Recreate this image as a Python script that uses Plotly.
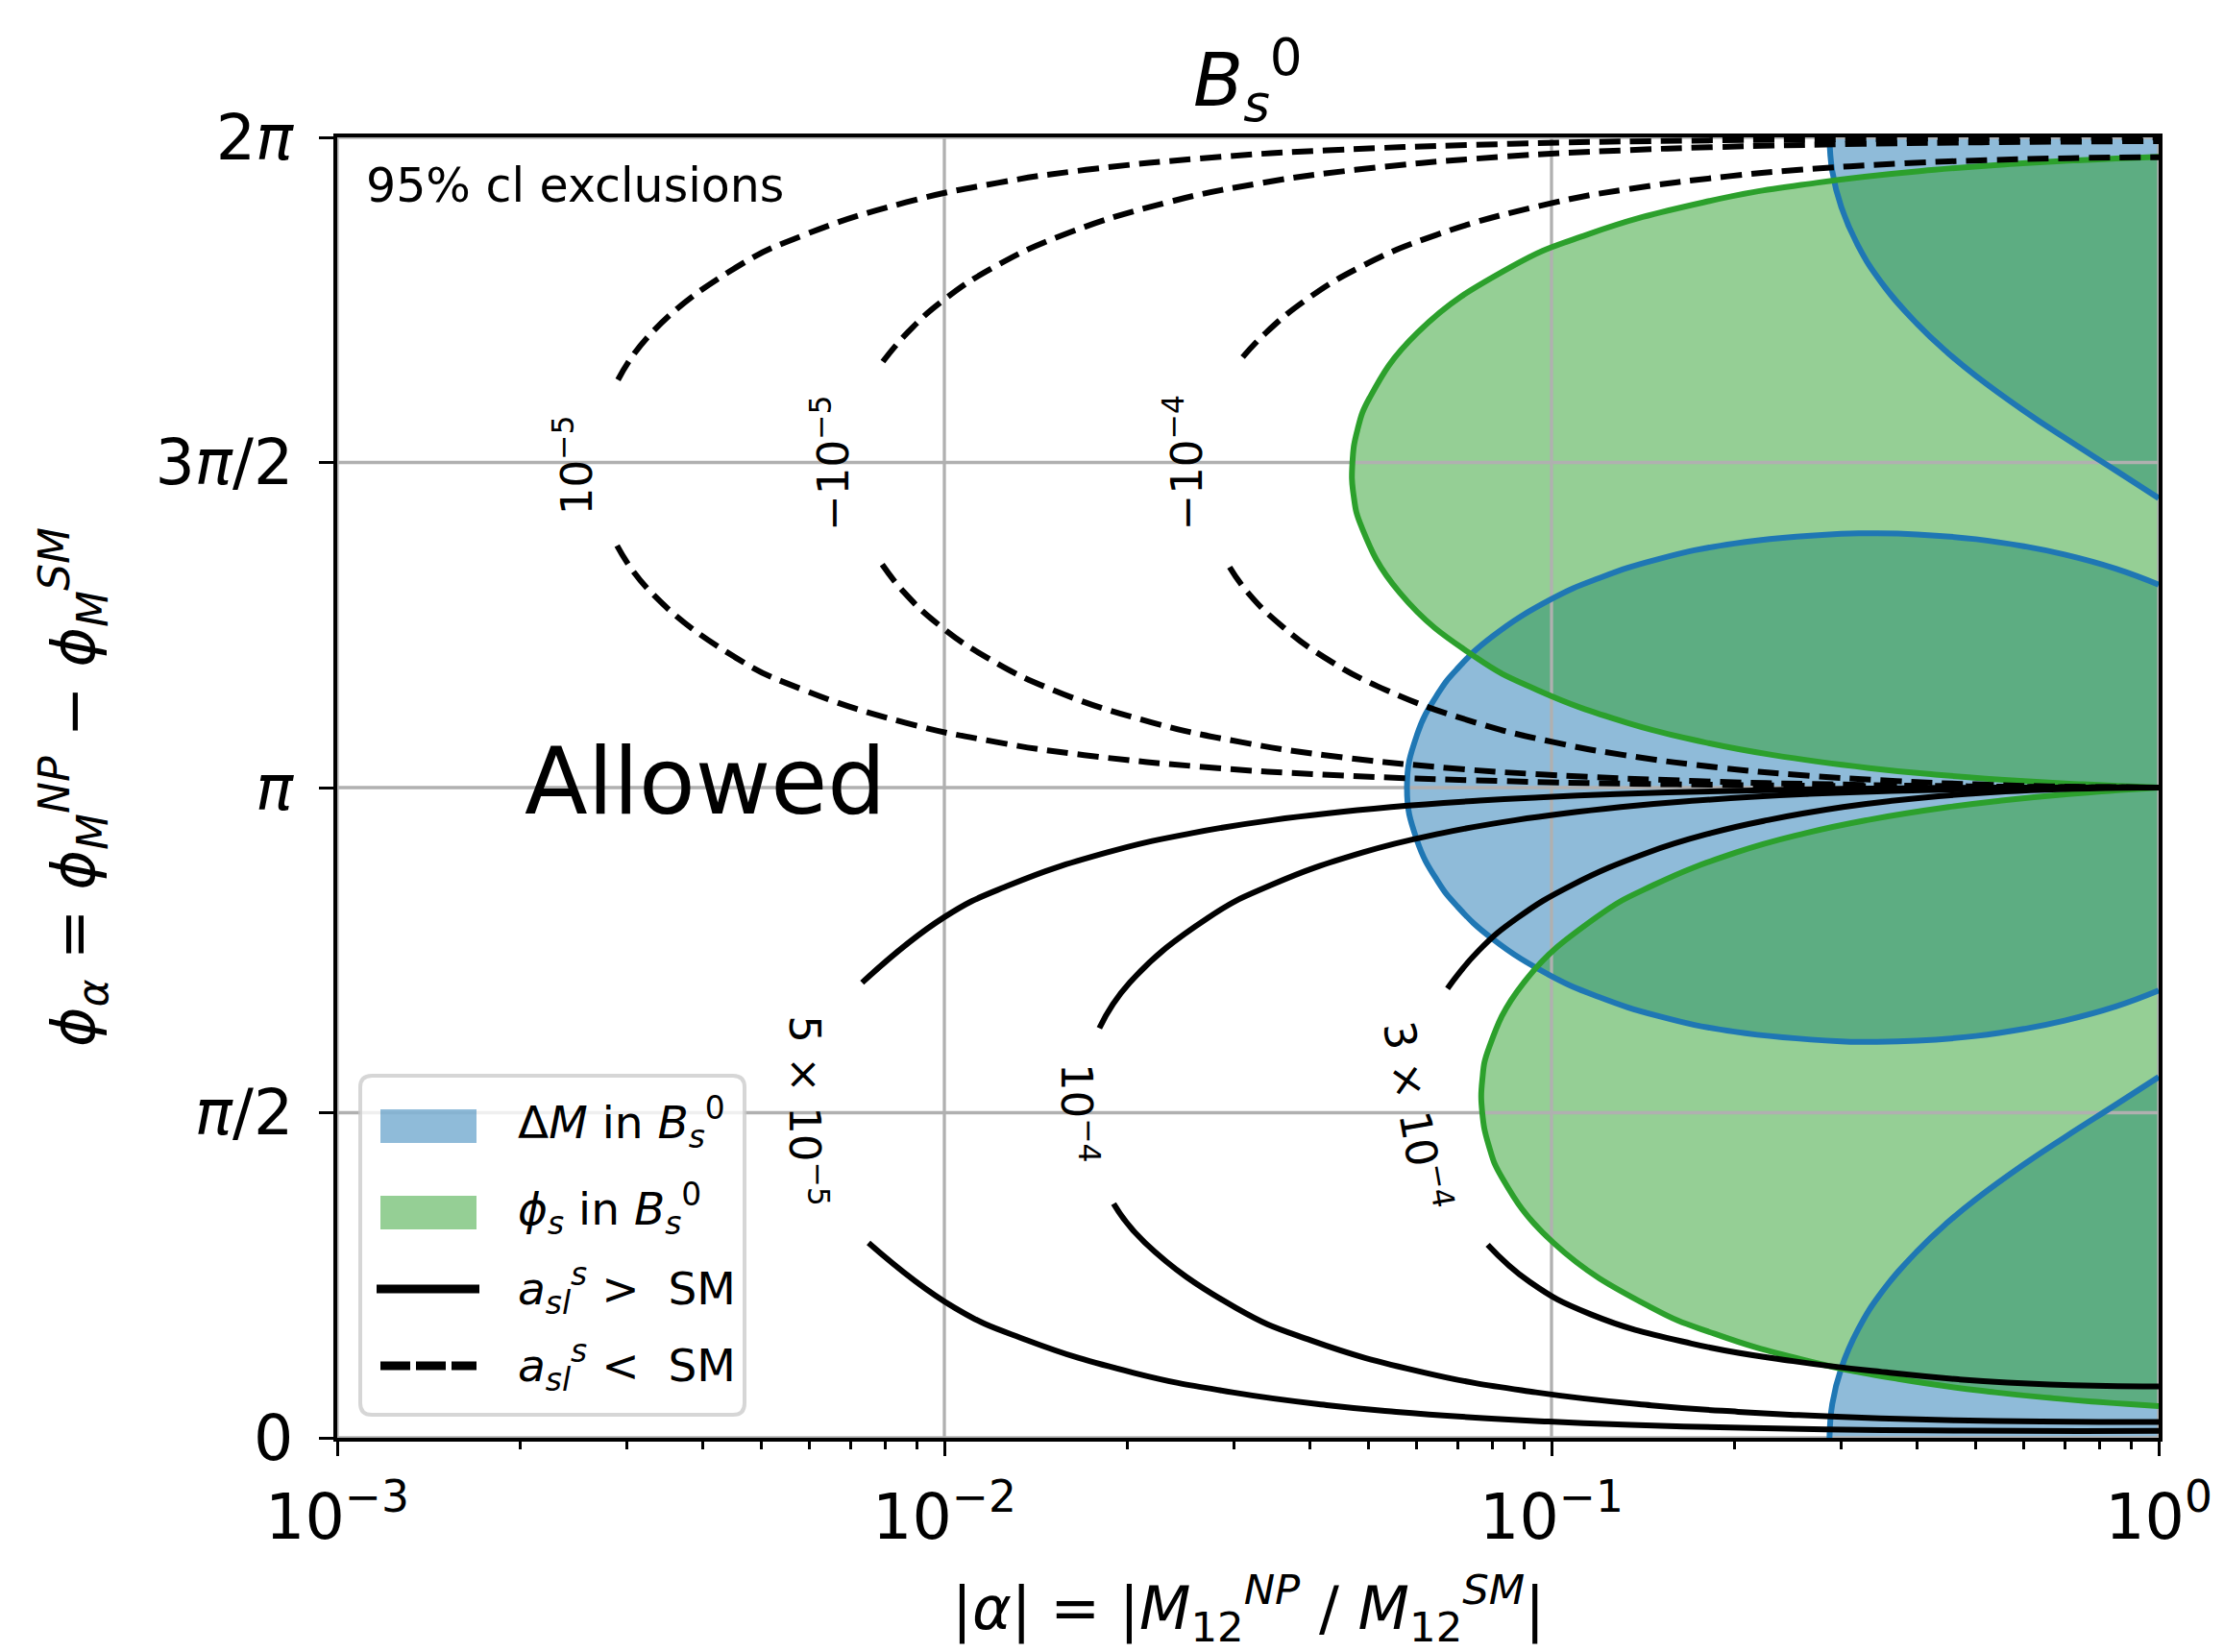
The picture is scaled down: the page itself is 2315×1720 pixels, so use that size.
import numpy as np
import plotly.graph_objects as go

# ---------------------------------------------------------------- data
# x: |alpha| (log axis), y: phi_alpha in units of pi
X_RANGE = [1e-3, 1.0]
Y_RANGE = [0.0, 2.0]

x_tick_vals = [1e-3, 1e-2, 1e-1, 1.0]
x_tick_text = ["10<sup>−3</sup>", "10<sup>−2</sup>", "10<sup>−1</sup>", "10<sup>0</sup>"]
x_minor_vals = [k * 10.0 ** e for e in (-3, -2, -1) for k in range(2, 10)]
y_tick_vals = [0.0, 0.5, 1.0, 1.5, 2.0]
y_tick_text = ["0", "<i>π</i>/2", "<i>π</i>", "3<i>π</i>/2", "2<i>π</i>"]

# Delta M exclusion (blue), middle lobe around phi = pi
dm_mid_alpha = [1.0, 0.85, 0.7, 0.6, 0.5, 0.4, 0.335, 0.3, 0.2, 0.15, 0.12, 0.1, 0.08, 0.07, 0.065, 0.06, 0.0578,
                0.06, 0.065, 0.07, 0.08, 0.1, 0.12, 0.15, 0.2, 0.3, 0.335, 0.4, 0.5, 0.6, 0.7, 0.85, 1.0]
dm_mid_phi = [1.3122, 1.3367, 1.3584, 1.3711, 1.382, 1.3894, 1.391, 1.3904, 1.3754, 1.3514, 1.3224, 1.29, 1.2328,
              1.183, 1.1445, 1.0803, 1.0,
              0.9197, 0.8555, 0.817, 0.7672, 0.71, 0.6776, 0.6486, 0.6246, 0.6096, 0.609, 0.6106, 0.618, 0.6289,
              0.6416, 0.6633, 0.6878]
# Delta M exclusion, top lobe (near 2 pi) and bottom lobe (near 0)
dm_top_alpha = [0.287, 0.29, 0.3, 0.32, 0.35, 0.4, 0.45, 0.5, 0.6, 0.7, 0.85, 1.0]
dm_top_phi = [2.0, 1.948, 1.8933, 1.833, 1.7757, 1.7132, 1.6682, 1.6332, 1.5795, 1.5379, 1.4876, 1.4451]
dm_bot_alpha = [0.287, 0.29, 0.3, 0.32, 0.35, 0.4, 0.45, 0.5, 0.6, 0.7, 0.85, 1.0]
dm_bot_phi = [0.0, 0.052, 0.1067, 0.167, 0.2243, 0.2868, 0.3318, 0.3668, 0.4205, 0.4621, 0.5124, 0.5549]

# phi_s exclusion (green), upper and lower lobes
ps_up_alpha = [1.0, 0.7458, 0.597, 0.4272, 0.2728, 0.1778, 0.1141, 0.0855, 0.0602, 0.0502, 0.0479, 0.047, 0.0472,
               0.0487, 0.0562, 0.0751, 0.0948, 0.1329, 0.178, 0.2317, 0.3336, 0.4284, 0.5996, 0.7497, 1.0]
ps_up_phi = [1.9701, 1.965, 1.96, 1.95, 1.93, 1.9, 1.85, 1.8, 1.7, 1.6, 1.55, 1.5, 1.45, 1.4, 1.3, 1.2, 1.15, 1.1,
             1.07, 1.05, 1.03, 1.02, 1.01, 1.005, 1.0]
ps_lo_alpha = [1.0, 0.8864, 0.7995, 0.6876, 0.5374, 0.3749, 0.2593, 0.1856, 0.1463, 0.1007, 0.0829, 0.0788, 0.0769,
               0.0769, 0.0789, 0.09, 0.1183, 0.1472, 0.2012, 0.2623, 0.3309, 0.4506, 0.5511, 0.7103, 1.0]
ps_lo_phi = [0.0489, 0.052, 0.055, 0.06, 0.07, 0.09, 0.12, 0.16, 0.2, 0.3, 0.4, 0.45, 0.5, 0.55, 0.6, 0.7, 0.8, 0.85,
             0.9, 0.93, 0.95, 0.97, 0.98, 0.99, 1.0]

# a_sl^s contours above SM (solid): each split in two branches by its inline label
asl_5em5_lo_alpha = [1.0, 0.744, 0.476, 0.351, 0.214, 0.135, 0.0989, 0.0783, 0.0555, 0.043, 0.0298, 0.0205, 0.0137,
                     0.0104, 0.0075]
asl_5em5_lo_phi = [0.0107, 0.0105, 0.011, 0.012, 0.015, 0.02, 0.025, 0.03, 0.04, 0.05, 0.07, 0.1, 0.15, 0.2, 0.3]
asl_5em5_hi_alpha = [0.00732, 0.00997, 0.0128, 0.0185, 0.0256, 0.0347, 0.0544, 0.0761, 0.0953, 0.128, 0.197, 0.302,
                     0.378, 0.554, 1.0]
asl_5em5_hi_phi = [0.7, 0.8, 0.85, 0.9, 0.93, 0.95, 0.97, 0.98, 0.985, 0.99, 0.995, 0.998, 0.999, 1.0, 1.0]

asl_1em4_lo_alpha = [1.0, 0.881, 0.64, 0.462, 0.348, 0.255, 0.203, 0.146, 0.0942, 0.062, 0.0401, 0.0302, 0.0214,
                     0.019]
asl_1em4_lo_phi = [0.02447, 0.02438, 0.025, 0.027, 0.03, 0.035, 0.04, 0.05, 0.07, 0.1, 0.15, 0.2, 0.3, 0.36]
asl_1em4_hi_alpha = [0.018, 0.0202, 0.0272, 0.0345, 0.0488, 0.0661, 0.0873, 0.13, 0.173, 0.262, 0.363, 0.777, 1.0]
asl_1em4_hi_phi = [0.63, 0.7, 0.8, 0.85, 0.9, 0.93, 0.95, 0.97, 0.98, 0.99, 0.995, 1.0, 1.0]

asl_3em4_lo_alpha = [1.0, 0.962, 0.784, 0.563, 0.468, 0.361, 0.25, 0.17, 0.116, 0.092, 0.0785]
asl_3em4_lo_phi = [0.0792, 0.0791, 0.08, 0.085, 0.09, 0.1, 0.118, 0.145, 0.19, 0.24, 0.297]
asl_3em4_hi_alpha = [0.0674, 0.076, 0.088, 0.108, 0.144, 0.183, 0.227, 0.302, 0.367, 0.48, 0.585, 0.926, 1.0]
asl_3em4_hi_phi = [0.691, 0.75, 0.8, 0.85, 0.9, 0.93, 0.95, 0.97, 0.98, 0.99, 0.995, 1.0, 1.0]

# a_sl^s contours below SM (dashed)
asl_1em5_hi_alpha = [0.0029, 0.0033, 0.00454, 0.00588, 0.00864, 0.01225, 0.0171, 0.0285, 0.0427, 0.0857, 0.171,
                     0.401, 0.656, 1.0]
asl_1em5_hi_phi = [1.627, 1.7, 1.8, 1.85, 1.9, 1.93, 1.95, 1.97, 1.98, 1.99, 1.995, 1.998, 1.999, 1.9997]
asl_1em5_lo_alpha = [0.00289, 0.00329, 0.00453, 0.00587, 0.00861, 0.01219, 0.017, 0.0282, 0.0421, 0.0831, 0.161,
                     0.353, 0.551, 1.0]
asl_1em5_lo_phi = [1.372, 1.3, 1.2, 1.15, 1.1, 1.07, 1.05, 1.03, 1.02, 1.01, 1.005, 1.002, 1.001, 1.0]

asl_m1em5_hi_alpha = [0.00792, 0.0087, 0.00998, 0.01205, 0.0157, 0.0233, 0.0334, 0.0475, 0.0825, 0.131, 0.186,
                      0.325, 0.467, 0.905, 1.0]
asl_m1em5_hi_phi = [1.655, 1.7, 1.75, 1.8, 1.85, 1.9, 1.93, 1.95, 1.97, 1.98, 1.985, 1.99, 1.992, 1.994, 1.9942]
asl_m1em5_lo_alpha = [0.0079, 0.00859, 0.0098, 0.01175, 0.0151, 0.022, 0.0308, 0.0423, 0.0679, 0.0975, 0.174,
                      0.289, 0.486, 1.0]
asl_m1em5_lo_phi = [1.343, 1.3, 1.25, 1.2, 1.15, 1.1, 1.07, 1.05, 1.03, 1.02, 1.01, 1.005, 1.002, 1.0]

asl_m1em4_hi_alpha = [0.031, 0.0339, 0.0394, 0.0483, 0.0646, 0.1014, 0.133, 0.195, 0.256, 0.382, 0.524, 0.716, 1.0]
asl_m1em4_hi_phi = [1.662, 1.7, 1.75, 1.8, 1.85, 1.9, 1.92, 1.94, 1.95, 1.96, 1.965, 1.968, 1.9694]
asl_m1em4_lo_alpha = [0.0295, 0.0316, 0.0358, 0.0423, 0.0534, 0.075, 0.1007, 0.1316, 0.192, 0.251, 0.37, 0.499,
                      0.66, 1.0]
asl_m1em4_lo_phi = [1.339, 1.3, 1.25, 1.2, 1.15, 1.1, 1.07, 1.05, 1.03, 1.02, 1.01, 1.005, 1.002, 1.0]

# inline contour labels
clabel_text = ["10<sup>−5</sup>", "−10<sup>−5</sup>", "−10<sup>−4</sup>",
               "5 × 10<sup>−5</sup>", "10<sup>−4</sup>", "3 × 10<sup>−4</sup>"]
clabel_alpha = [0.00245, 0.0065, 0.0248, 0.00596, 0.01667, 0.0600]
clabel_phi = [1.496, 1.499, 1.499, 0.502, 0.499, 0.495]
clabel_angle = [-90, -90, -90, 90, 90, 80]

legend_labels = ["Δ<i>M</i> in <i>B</i><sub><i>s</i></sub><sup>0</sup>",
                 "<i>ϕ</i><sub><i>s</i></sub> in <i>B</i><sub><i>s</i></sub><sup>0</sup>",
                 "<i>a</i><sub><i>sl</i></sub><sup><i>s</i></sup> &gt;  SM",
                 "<i>a</i><sub><i>sl</i></sub><sup><i>s</i></sup> &lt;  SM"]

# ---------------------------------------------------------------- style
W, H = 2315, 1720
PL, PR, PT, PB = 351, 2247, 143, 1497
FONT = "DejaVu Sans"
BLUE, GREEN = "#1f77b4", "#2ca02c"
BLUE_FILL, GREEN_FILL = "rgba(31,119,180,0.5)", "rgba(44,160,44,0.5)"
GRID = "#b0b0b0"
LW = 6


def px(X):
    return (X - PL) / (PR - PL)


def py(Y):
    return (PB - Y) / (PB - PT)


fig = go.Figure()


def fill(xs, ys, color, shape="spline"):
    fig.add_trace(go.Scatter(x=xs, y=ys, mode="lines", line=dict(width=0, shape=shape, smoothing=1.3),
                             fill="toself", fillcolor=color, hoverinfo="skip", showlegend=False))


def line(xs, ys, color, dash="solid", width=LW, shape="spline"):
    fig.add_trace(go.Scatter(x=xs, y=ys, mode="lines",
                             line=dict(color=color, width=width, dash=dash, shape=shape, smoothing=1.3),
                             hoverinfo="skip", showlegend=False))


# fills: blue first, green on top
fill(dm_mid_alpha, dm_mid_phi, BLUE_FILL)
fill(dm_top_alpha + [X_RANGE[1]], dm_top_phi + [Y_RANGE[1]], BLUE_FILL, shape="linear")
fill(dm_bot_alpha + [X_RANGE[1]], dm_bot_phi + [Y_RANGE[0]], BLUE_FILL, shape="linear")
fill(ps_up_alpha, ps_up_phi, GREEN_FILL)
fill(ps_lo_alpha, ps_lo_phi, GREEN_FILL)

# grid above the fills
for v in x_tick_vals:
    line([v, v], Y_RANGE, GRID, width=3.3, shape="linear")
for v in y_tick_vals:
    line(X_RANGE, [v, v], GRID, width=3.3, shape="linear")

# region edges
line(dm_mid_alpha, dm_mid_phi, BLUE)
line(dm_top_alpha, dm_top_phi, BLUE)
line(dm_bot_alpha, dm_bot_phi, BLUE)
line(ps_up_alpha, ps_up_phi, GREEN)
line(ps_lo_alpha, ps_lo_phi, GREEN)

# a_sl contours
DASH = "22px,10px"
for xs, ys in [(asl_5em5_lo_alpha, asl_5em5_lo_phi), (asl_5em5_hi_alpha, asl_5em5_hi_phi),
               (asl_1em4_lo_alpha, asl_1em4_lo_phi), (asl_1em4_hi_alpha, asl_1em4_hi_phi),
               (asl_3em4_lo_alpha, asl_3em4_lo_phi), (asl_3em4_hi_alpha, asl_3em4_hi_phi)]:
    line(xs, ys, "black")
for xs, ys in [(asl_1em5_hi_alpha, asl_1em5_hi_phi), (asl_1em5_lo_alpha, asl_1em5_lo_phi),
               (asl_m1em5_hi_alpha, asl_m1em5_hi_phi), (asl_m1em5_lo_alpha, asl_m1em5_lo_phi),
               (asl_m1em4_hi_alpha, asl_m1em4_hi_phi), (asl_m1em4_lo_alpha, asl_m1em4_lo_phi)]:
    line(xs, ys, "black", dash=DASH)

annotations = []
for t, a, p, ang in zip(clabel_text, clabel_alpha, clabel_phi, clabel_angle):
    annotations.append(dict(x=np.log10(a), y=p, xref="x", yref="y", text=t, showarrow=False,
                            textangle=ang, font=dict(family=FONT, size=45, color="black"),
                            xanchor="center", yanchor="middle"))

YLABEL = ("<i>ϕ</i><sub><i>α</i></sub> = <i>ϕ</i><sub><i>M</i></sub><sup><i>NP</i></sup> − "
          "<i>ϕ</i><sub><i>M</i></sub><sup><i>SM</i></sup>")
annotations += [
    dict(x=0.5, y=py(84), xref="paper", yref="paper", text="<i>B</i><sub><i>s</i></sub><sup>0</sup>",
         showarrow=False, font=dict(family=FONT, size=76, color="black"), xanchor="center", yanchor="middle"),
    dict(x=0.5, y=py(1674), xref="paper", yref="paper",
         text="|<i>α</i>| = |<i>M</i><sub>12</sub><sup><i>NP</i></sup> / <i>M</i><sub>12</sub><sup><i>SM</i></sup>|",
         showarrow=False, font=dict(family=FONT, size=62, color="black"), xanchor="center", yanchor="middle"),
    dict(x=px(76), y=0.5, xref="paper", yref="paper", textangle=-90, text=YLABEL,
         showarrow=False, font=dict(family=FONT, size=63, color="black"), xanchor="center", yanchor="middle"),
    dict(x=px(2356), y=0.5, xref="paper", yref="paper", textangle=-90, text=YLABEL,
         showarrow=False, font=dict(family=FONT, size=63, color="black"), xanchor="center", yanchor="middle"),
    dict(x=px(379), y=py(193), xref="paper", yref="paper", text="95% cl exclusions", showarrow=False,
         font=dict(family=FONT, size=49, color="black"), xanchor="left", yanchor="middle"),
    dict(x=px(734), y=py(814), xref="paper", yref="paper", text="Allowed", showarrow=False,
         font=dict(family=FONT, size=96, color="black"), xanchor="center", yanchor="middle"),
]

# hand-drawn legend (matplotlib style)
shapes = []
bx0, bx1, by0, by1, r = 375, 775, 1120, 1473, 12
rx, ry = r / (PR - PL), r / (PB - PT)
X0, X1, Ytop, Ybot = px(bx0), px(bx1), py(by0), py(by1)
path = (f"M{X0 + rx},{Ytop} L{X1 - rx},{Ytop} Q{X1},{Ytop} {X1},{Ytop - ry} L{X1},{Ybot + ry} "
        f"Q{X1},{Ybot} {X1 - rx},{Ybot} L{X0 + rx},{Ybot} Q{X0},{Ybot} {X0},{Ybot + ry} "
        f"L{X0},{Ytop - ry} Q{X0},{Ytop} {X0 + rx},{Ytop} Z")
shapes.append(dict(type="path", xref="paper", yref="paper", path=path, layer="above",
                   fillcolor="rgba(255,255,255,0.8)", line=dict(color="rgba(204,204,204,0.8)", width=4)))
shapes.append(dict(type="rect", xref="paper", yref="paper", x0=px(396), x1=px(496), y0=py(1155), y1=py(1190),
                   fillcolor=BLUE_FILL, line=dict(width=0), layer="above"))
shapes.append(dict(type="rect", xref="paper", yref="paper", x0=px(396), x1=px(496), y0=py(1245), y1=py(1280),
                   fillcolor=GREEN_FILL, line=dict(width=0), layer="above"))
shapes.append(dict(type="line", xref="paper", yref="paper", x0=px(392), x1=px(499), y0=py(1342), y1=py(1342),
                   line=dict(color="black", width=9), layer="above"))
shapes.append(dict(type="line", xref="paper", yref="paper", x0=px(396), x1=px(496), y0=py(1422), y1=py(1422),
                   line=dict(color="black", width=9, dash="31px,6px"), layer="above"))
for lab, yc in zip(legend_labels, [1168, 1258, 1341, 1421]):
    annotations.append(dict(x=px(537), y=py(yc), xref="paper", yref="paper", text=lab, showarrow=False,
                            font=dict(family=FONT, size=47, color="black"), xanchor="left", yanchor="middle"))

fig.update_layout(
    width=W, height=H, margin=dict(l=PL, r=W - PR, t=PT, b=H - PB, pad=0),
    paper_bgcolor="white", plot_bgcolor="white", showlegend=False,
    font=dict(family=FONT, color="black"),
    annotations=annotations, shapes=shapes,
)
fig.update_xaxes(type="log", range=[np.log10(X_RANGE[0]), np.log10(X_RANGE[1])],
                 tickmode="array", tickvals=x_tick_vals, ticktext=x_tick_text,
                 ticks="outside", ticklen=15, tickwidth=3.3, tickcolor="black",
                 tickfont=dict(family=FONT, size=65, color="black"), ticklabelstandoff=8,
                 minor=dict(tickmode="array", tickvals=x_minor_vals, ticks="outside", ticklen=8,
                            tickwidth=2.5, tickcolor="black", showgrid=False),
                 showgrid=False, zeroline=False, showline=True, linewidth=3.5, linecolor="black", mirror=True)
fig.update_yaxes(range=Y_RANGE, tickmode="array", tickvals=y_tick_vals, ticktext=y_tick_text,
                 ticks="outside", ticklen=15, tickwidth=3.3, tickcolor="black",
                 tickfont=dict(family=FONT, size=65, color="black"), ticklabelstandoff=14,
                 showgrid=False, zeroline=False, showline=True, linewidth=3.5, linecolor="black", mirror=True)

fig.write_html("out.html")
